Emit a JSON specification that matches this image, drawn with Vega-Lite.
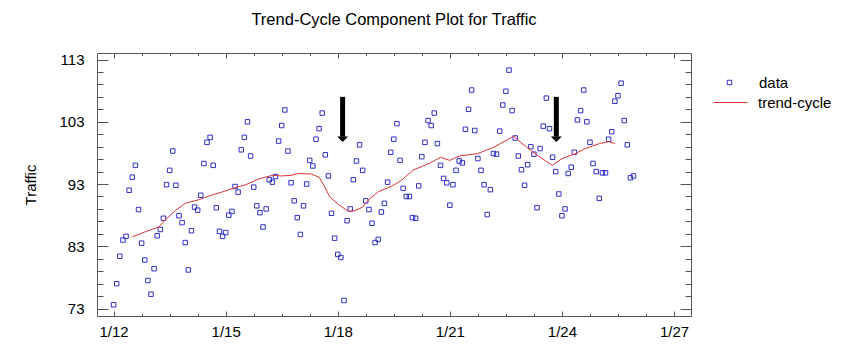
{
  "$schema": "https://vega.github.io/schema/vega-lite/v6.json",
  "width": 594,
  "height": 263,
  "autosize": {"type": "none"},
  "padding": {"left": 97, "top": 53, "right": 153, "bottom": 40},
  "background": "white",
  "title": {"text": "Trend-Cycle Component Plot for Traffic", "font": "Liberation Sans", "fontSize": 16.5, "fontWeight": "normal", "color": "#000000", "anchor": "middle", "offset": 24},
  "config": {
    "font": "Liberation Sans",
    "view": {"stroke": "#555555", "strokeWidth": 1},
    "axis": {"grid": false, "domain": false, "labelFont": "Liberation Sans", "labelFontSize": 15, "labelColor": "#000000", "tickColor": "#555555", "tickWidth": 1, "title": null},
    "legend": {"title": null, "labelFont": "Liberation Sans", "labelFontSize": 15, "labelColor": "#000000", "orient": "none"}
  },
  "datasets": {
    "obs": [
      {"t":"2021-01-12T00:00:00","v":73.6},{"t":"2021-01-12T02:00:00","v":77.0},{"t":"2021-01-12T04:00:00","v":81.4},{"t":"2021-01-12T06:00:00","v":84.0},{"t":"2021-01-12T08:00:00","v":84.6},{"t":"2021-01-12T10:00:00","v":92.0},{"t":"2021-01-12T12:00:00","v":94.1},{"t":"2021-01-12T14:00:00","v":96.0},{"t":"2021-01-12T16:00:00","v":88.9},{"t":"2021-01-12T18:00:00","v":83.5},{"t":"2021-01-12T20:00:00","v":80.8},{"t":"2021-01-12T22:00:00","v":77.5},
      {"t":"2021-01-13T00:00:00","v":75.3},{"t":"2021-01-13T02:00:00","v":79.4},{"t":"2021-01-13T04:00:00","v":84.7},{"t":"2021-01-13T06:00:00","v":85.7},{"t":"2021-01-13T08:00:00","v":87.5},{"t":"2021-01-13T10:00:00","v":92.9},{"t":"2021-01-13T12:00:00","v":95.2},{"t":"2021-01-13T14:00:00","v":98.3},{"t":"2021-01-13T16:00:00","v":92.8},{"t":"2021-01-13T18:00:00","v":87.9},{"t":"2021-01-13T20:00:00","v":86.8},{"t":"2021-01-13T22:00:00","v":83.6},
      {"t":"2021-01-14T00:00:00","v":79.2},{"t":"2021-01-14T02:00:00","v":85.5},{"t":"2021-01-14T04:00:00","v":89.3},{"t":"2021-01-14T06:00:00","v":88.8},{"t":"2021-01-14T08:00:00","v":91.2},{"t":"2021-01-14T10:00:00","v":96.3},{"t":"2021-01-14T12:00:00","v":99.7},{"t":"2021-01-14T14:00:00","v":100.5},{"t":"2021-01-14T16:00:00","v":96.0},{"t":"2021-01-14T18:00:00","v":89.2},{"t":"2021-01-14T20:00:00","v":85.4},{"t":"2021-01-14T22:00:00","v":84.6},
      {"t":"2021-01-15T00:00:00","v":85.2},{"t":"2021-01-15T02:00:00","v":88.0},{"t":"2021-01-15T04:00:00","v":88.6},{"t":"2021-01-15T06:00:00","v":92.6},{"t":"2021-01-15T08:00:00","v":91.7},{"t":"2021-01-15T10:00:00","v":98.5},{"t":"2021-01-15T12:00:00","v":100.5},{"t":"2021-01-15T14:00:00","v":103.0},{"t":"2021-01-15T16:00:00","v":97.5},{"t":"2021-01-15T18:00:00","v":92.5},{"t":"2021-01-15T20:00:00","v":89.5},{"t":"2021-01-15T22:00:00","v":88.4},
      {"t":"2021-01-16T00:00:00","v":86.1},{"t":"2021-01-16T02:00:00","v":89.0},{"t":"2021-01-16T04:00:00","v":93.7},{"t":"2021-01-16T06:00:00","v":93.3},{"t":"2021-01-16T08:00:00","v":94.2},{"t":"2021-01-16T10:00:00","v":99.9},{"t":"2021-01-16T12:00:00","v":102.4},{"t":"2021-01-16T14:00:00","v":104.9},{"t":"2021-01-16T16:00:00","v":98.3},{"t":"2021-01-16T18:00:00","v":93.2},{"t":"2021-01-16T20:00:00","v":90.3},{"t":"2021-01-16T22:00:00","v":87.6},
      {"t":"2021-01-17T00:00:00","v":84.9},{"t":"2021-01-17T02:00:00","v":89.5},{"t":"2021-01-17T04:00:00","v":93.0},{"t":"2021-01-17T06:00:00","v":96.8},{"t":"2021-01-17T08:00:00","v":95.9},{"t":"2021-01-17T10:00:00","v":100.2},{"t":"2021-01-17T12:00:00","v":101.9},{"t":"2021-01-17T14:00:00","v":104.4},{"t":"2021-01-17T16:00:00","v":97.7},{"t":"2021-01-17T18:00:00","v":94.3},{"t":"2021-01-17T20:00:00","v":88.3},{"t":"2021-01-17T22:00:00","v":84.3},
      {"t":"2021-01-18T00:00:00","v":81.7},{"t":"2021-01-18T02:00:00","v":81.2},{"t":"2021-01-18T04:00:00","v":74.3},{"t":"2021-01-18T06:00:00","v":87.1},{"t":"2021-01-18T08:00:00","v":89.0},{"t":"2021-01-18T10:00:00","v":93.7},{"t":"2021-01-18T12:00:00","v":96.7},{"t":"2021-01-18T14:00:00","v":99.3},{"t":"2021-01-18T16:00:00","v":95.2},{"t":"2021-01-18T18:00:00","v":90.3},{"t":"2021-01-18T20:00:00","v":88.9},{"t":"2021-01-18T22:00:00","v":86.7},
      {"t":"2021-01-19T00:00:00","v":83.6},{"t":"2021-01-19T02:00:00","v":84.1},{"t":"2021-01-19T04:00:00","v":88.5},{"t":"2021-01-19T06:00:00","v":89.9},{"t":"2021-01-19T08:00:00","v":93.3},{"t":"2021-01-19T10:00:00","v":98.1},{"t":"2021-01-19T12:00:00","v":100.2},{"t":"2021-01-19T14:00:00","v":102.7},{"t":"2021-01-19T16:00:00","v":96.8},{"t":"2021-01-19T18:00:00","v":92.3},{"t":"2021-01-19T20:00:00","v":91.0},{"t":"2021-01-19T22:00:00","v":91.0},
      {"t":"2021-01-20T00:00:00","v":87.6},{"t":"2021-01-20T02:00:00","v":87.5},{"t":"2021-01-20T04:00:00","v":92.7},{"t":"2021-01-20T06:00:00","v":97.4},{"t":"2021-01-20T08:00:00","v":99.7},{"t":"2021-01-20T10:00:00","v":103.2},{"t":"2021-01-20T12:00:00","v":102.4},{"t":"2021-01-20T14:00:00","v":104.4},{"t":"2021-01-20T16:00:00","v":99.5},{"t":"2021-01-20T18:00:00","v":96.0},{"t":"2021-01-20T20:00:00","v":93.9},{"t":"2021-01-20T22:00:00","v":93.2},
      {"t":"2021-01-21T00:00:00","v":89.6},{"t":"2021-01-21T02:00:00","v":92.9},{"t":"2021-01-21T04:00:00","v":95.2},{"t":"2021-01-21T06:00:00","v":96.7},{"t":"2021-01-21T08:00:00","v":96.4},{"t":"2021-01-21T10:00:00","v":101.8},{"t":"2021-01-21T12:00:00","v":105.0},{"t":"2021-01-21T14:00:00","v":108.1},{"t":"2021-01-21T16:00:00","v":101.6},{"t":"2021-01-21T18:00:00","v":97.1},{"t":"2021-01-21T20:00:00","v":95.2},{"t":"2021-01-21T22:00:00","v":92.9},
      {"t":"2021-01-22T00:00:00","v":88.1},{"t":"2021-01-22T02:00:00","v":92.1},{"t":"2021-01-22T04:00:00","v":97.9},{"t":"2021-01-22T06:00:00","v":97.8},{"t":"2021-01-22T08:00:00","v":101.5},{"t":"2021-01-22T10:00:00","v":105.7},{"t":"2021-01-22T12:00:00","v":107.9},{"t":"2021-01-22T14:00:00","v":111.3},{"t":"2021-01-22T16:00:00","v":104.8},{"t":"2021-01-22T18:00:00","v":100.4},{"t":"2021-01-22T20:00:00","v":97.5},{"t":"2021-01-22T22:00:00","v":95.3},
      {"t":"2021-01-23T00:00:00","v":92.8},{"t":"2021-01-23T02:00:00","v":96.1},{"t":"2021-01-23T04:00:00","v":99.0},{"t":"2021-01-23T06:00:00","v":97.8},{"t":"2021-01-23T08:00:00","v":89.2},{"t":"2021-01-23T10:00:00","v":98.7},{"t":"2021-01-23T12:00:00","v":102.3},{"t":"2021-01-23T14:00:00","v":106.8},{"t":"2021-01-23T16:00:00","v":101.9},{"t":"2021-01-23T18:00:00","v":97.3},{"t":"2021-01-23T20:00:00","v":95.0},{"t":"2021-01-23T22:00:00","v":91.4},
      {"t":"2021-01-24T00:00:00","v":87.9},{"t":"2021-01-24T02:00:00","v":89.0},{"t":"2021-01-24T04:00:00","v":94.7},{"t":"2021-01-24T06:00:00","v":95.7},{"t":"2021-01-24T08:00:00","v":98.1},{"t":"2021-01-24T10:00:00","v":103.3},{"t":"2021-01-24T12:00:00","v":104.8},{"t":"2021-01-24T14:00:00","v":108.1},{"t":"2021-01-24T16:00:00","v":103.0},{"t":"2021-01-24T18:00:00","v":99.7},{"t":"2021-01-24T20:00:00","v":96.3},{"t":"2021-01-24T22:00:00","v":95.0},
      {"t":"2021-01-25T00:00:00","v":90.7},{"t":"2021-01-25T02:00:00","v":94.8},{"t":"2021-01-25T04:00:00","v":94.8},{"t":"2021-01-25T06:00:00","v":100.2},{"t":"2021-01-25T08:00:00","v":101.4},{"t":"2021-01-25T10:00:00","v":106.3},{"t":"2021-01-25T12:00:00","v":107.2},{"t":"2021-01-25T14:00:00","v":109.2},{"t":"2021-01-25T16:00:00","v":103.2},{"t":"2021-01-25T18:00:00","v":99.3},{"t":"2021-01-25T20:00:00","v":94.0},{"t":"2021-01-25T22:00:00","v":94.3}
    ],
    "trend": [
      {"t":"2021-01-12T12:00:00","v":84.5},{"t":"2021-01-12T20:00:00","v":85.3},{"t":"2021-01-13T05:00:00","v":86.1},{"t":"2021-01-13T09:00:00","v":87.2},{"t":"2021-01-13T16:00:00","v":88.8},{"t":"2021-01-13T22:00:00","v":89.9},
      {"t":"2021-01-14T07:00:00","v":90.5},{"t":"2021-01-14T13:00:00","v":91.05},{"t":"2021-01-14T22:00:00","v":91.75},{"t":"2021-01-15T06:00:00","v":92.4},{"t":"2021-01-15T13:00:00","v":92.9},{"t":"2021-01-15T21:00:00","v":93.8},
      {"t":"2021-01-16T06:00:00","v":94.4},{"t":"2021-01-16T12:00:00","v":94.3},{"t":"2021-01-16T18:00:00","v":94.4},{"t":"2021-01-16T23:00:00","v":94.7},{"t":"2021-01-17T07:00:00","v":94.6},{"t":"2021-01-17T12:00:00","v":94.1},
      {"t":"2021-01-17T15:00:00","v":92.8},{"t":"2021-01-17T19:00:00","v":90.9},{"t":"2021-01-18T01:00:00","v":89.6},{"t":"2021-01-18T07:00:00","v":88.6},{"t":"2021-01-18T11:00:00","v":88.7},{"t":"2021-01-18T16:00:00","v":89.3},
      {"t":"2021-01-18T20:00:00","v":90.5},{"t":"2021-01-19T02:00:00","v":91.75},{"t":"2021-01-19T11:00:00","v":92.7},{"t":"2021-01-19T17:00:00","v":93.6},{"t":"2021-01-20T00:00:00","v":95.2},{"t":"2021-01-20T06:00:00","v":95.8},
      {"t":"2021-01-20T13:00:00","v":96.6},{"t":"2021-01-20T18:00:00","v":97.3},{"t":"2021-01-21T00:00:00","v":96.8},{"t":"2021-01-21T06:00:00","v":97.5},{"t":"2021-01-21T18:00:00","v":97.9},{"t":"2021-01-22T05:00:00","v":99.0},
      {"t":"2021-01-22T17:00:00","v":100.7},{"t":"2021-01-22T21:00:00","v":99.8},{"t":"2021-01-23T05:00:00","v":98.2},{"t":"2021-01-23T13:00:00","v":96.8},{"t":"2021-01-23T18:00:00","v":96.0},{"t":"2021-01-24T00:00:00","v":97.1},
      {"t":"2021-01-24T08:00:00","v":97.8},{"t":"2021-01-24T15:00:00","v":98.7},{"t":"2021-01-25T00:00:00","v":99.5},{"t":"2021-01-25T06:00:00","v":99.8},{"t":"2021-01-25T10:00:00","v":99.5}
    ],
    "arrows": [
      {"t":"2021-01-18T03:07:00","top":107.0,"bottom":100.6,"head":100.2},
      {"t":"2021-01-23T20:24:00","top":107.0,"bottom":100.6,"head":100.2}
    ]
  },
  "resolve": {"axis": {"x": "independent", "y": "independent"}, "scale": {"color": "independent"}, "legend": {"color": "independent"}},
  "layer": [
    {
      "data": {"name": "obs"},
      "mark": {"type": "point", "shape": "square", "filled": false, "strokeWidth": 1, "size": 20, "opacity": 1},
      "encoding": {
        "x": {"field": "t", "type": "temporal",
          "scale": {"domain": [{"year":2021,"month":1,"date":11,"hours":13,"minutes":20},{"year":2021,"month":1,"date":27,"hours":10,"minutes":55}]},
          "axis": {"orient": "bottom", "ticks": false, "labelPadding": 8, "format": "%-m/%-d",
            "values": [{"year":2021,"month":1,"date":12},{"year":2021,"month":1,"date":15},{"year":2021,"month":1,"date":18},{"year":2021,"month":1,"date":21},{"year":2021,"month":1,"date":24},{"year":2021,"month":1,"date":27}]}},
        "y": {"field": "v", "type": "quantitative",
          "scale": {"domain": [71.8, 114.05], "nice": false, "zero": false},
          "axis": {"orient": "left", "ticks": false, "labelPadding": 13, "values": [73, 83, 93, 103, 113],
            "title": "Traffic", "titleFont": "Liberation Sans", "titleFontSize": 15, "titleFontWeight": "normal", "titleColor": "#000000", "titlePadding": 20}},
        "color": {"datum": "data", "type": "nominal",
          "scale": {"domain": ["data"], "range": ["#3030C8"]},
          "legend": {"orient": "none", "legendX": 625, "legendY": 22, "symbolSize": 20, "symbolStrokeWidth": 1, "labelOffset": 22}}
      }
    },
    {
      "data": {"name": "trend"},
      "mark": {"type": "line", "strokeWidth": 1, "interpolate": "linear"},
      "encoding": {
        "x": {"field": "t", "type": "temporal",
          "scale": {"domain": [{"year":2021,"month":1,"date":11,"hours":13,"minutes":20},{"year":2021,"month":1,"date":27,"hours":10,"minutes":55}]},
          "axis": {"orient": "bottom", "labels": false, "tickSize": -5,
            "values": [{"year":2021,"month":1,"date":12},{"year":2021,"month":1,"date":15},{"year":2021,"month":1,"date":18},{"year":2021,"month":1,"date":21},{"year":2021,"month":1,"date":24},{"year":2021,"month":1,"date":27}]}},
        "y": {"field": "v", "type": "quantitative",
          "scale": {"domain": [71.8, 114.05], "nice": false, "zero": false},
          "axis": {"orient": "left", "labels": false, "tickSize": -11, "values": [73, 83, 93, 103, 113]}},
        "color": {"datum": "trend-cycle", "type": "nominal",
          "scale": {"domain": ["trend-cycle"], "range": ["#E03434"]},
          "legend": {"orient": "none", "legendX": 616, "legendY": 32, "symbolType": "stroke", "symbolSize": 1156, "symbolStrokeWidth": 1, "labelOffset": 10}}
      }
    },
    {
      "data": {"name": "arrows"},
      "mark": {"type": "rule", "strokeWidth": 5, "color": "#000000"},
      "encoding": {
        "x": {"field": "t", "type": "temporal",
          "scale": {"domain": [{"year":2021,"month":1,"date":11,"hours":13,"minutes":20},{"year":2021,"month":1,"date":27,"hours":10,"minutes":55}]},
          "axis": {"orient": "bottom", "labels": false, "tickSize": -2.5,
            "values": [{"year":2021,"month":1,"date":12,"hours":18},{"year":2021,"month":1,"date":13,"hours":12},{"year":2021,"month":1,"date":14,"hours":6},{"year":2021,"month":1,"date":15,"hours":18},{"year":2021,"month":1,"date":16,"hours":12},{"year":2021,"month":1,"date":17,"hours":6},{"year":2021,"month":1,"date":18,"hours":18},{"year":2021,"month":1,"date":19,"hours":12},{"year":2021,"month":1,"date":20,"hours":6},{"year":2021,"month":1,"date":21,"hours":18},{"year":2021,"month":1,"date":22,"hours":12},{"year":2021,"month":1,"date":23,"hours":6},{"year":2021,"month":1,"date":24,"hours":18},{"year":2021,"month":1,"date":25,"hours":12},{"year":2021,"month":1,"date":26,"hours":6}]}},
        "y": {"field": "top", "type": "quantitative",
          "scale": {"domain": [71.8, 114.05], "nice": false, "zero": false},
          "axis": {"orient": "left", "labels": false, "tickSize": -6, "values": [75,77,79,81,85,87,89,91,95,97,99,101,105,107,109,111]}},
        "y2": {"field": "bottom"}
      }
    },
    {
      "data": {"name": "arrows"},
      "mark": {"type": "point", "filled": true, "color": "#000000", "opacity": 1, "size": 121, "shape": "M-1,-0.5L1,-0.5L0,0.5Z", "strokeWidth": 0},
      "encoding": {
        "x": {"field": "t", "type": "temporal",
          "scale": {"domain": [{"year":2021,"month":1,"date":11,"hours":13,"minutes":20},{"year":2021,"month":1,"date":27,"hours":10,"minutes":55}]},
          "axis": {"orient": "top", "labels": false, "tickSize": -5,
            "values": [{"year":2021,"month":1,"date":12},{"year":2021,"month":1,"date":15},{"year":2021,"month":1,"date":18},{"year":2021,"month":1,"date":21},{"year":2021,"month":1,"date":24},{"year":2021,"month":1,"date":27}]}},
        "y": {"field": "head", "type": "quantitative",
          "scale": {"domain": [71.8, 114.05], "nice": false, "zero": false},
          "axis": {"orient": "right", "labels": false, "tickSize": -11, "values": [73, 83, 93, 103, 113]}}
      }
    },
    {
      "data": {"name": "arrows"},
      "mark": {"type": "point", "opacity": 0, "size": 1},
      "encoding": {
        "x": {"field": "t", "type": "temporal",
          "scale": {"domain": [{"year":2021,"month":1,"date":11,"hours":13,"minutes":20},{"year":2021,"month":1,"date":27,"hours":10,"minutes":55}]},
          "axis": {"orient": "top", "labels": false, "tickSize": -2.5,
            "values": [{"year":2021,"month":1,"date":12,"hours":18},{"year":2021,"month":1,"date":13,"hours":12},{"year":2021,"month":1,"date":14,"hours":6},{"year":2021,"month":1,"date":15,"hours":18},{"year":2021,"month":1,"date":16,"hours":12},{"year":2021,"month":1,"date":17,"hours":6},{"year":2021,"month":1,"date":18,"hours":18},{"year":2021,"month":1,"date":19,"hours":12},{"year":2021,"month":1,"date":20,"hours":6},{"year":2021,"month":1,"date":21,"hours":18},{"year":2021,"month":1,"date":22,"hours":12},{"year":2021,"month":1,"date":23,"hours":6},{"year":2021,"month":1,"date":24,"hours":18},{"year":2021,"month":1,"date":25,"hours":12},{"year":2021,"month":1,"date":26,"hours":6}]}},
        "y": {"field": "head", "type": "quantitative",
          "scale": {"domain": [71.8, 114.05], "nice": false, "zero": false},
          "axis": {"orient": "right", "labels": false, "tickSize": -6, "values": [75,77,79,81,85,87,89,91,95,97,99,101,105,107,109,111]}}
      }
    }
  ]
}
